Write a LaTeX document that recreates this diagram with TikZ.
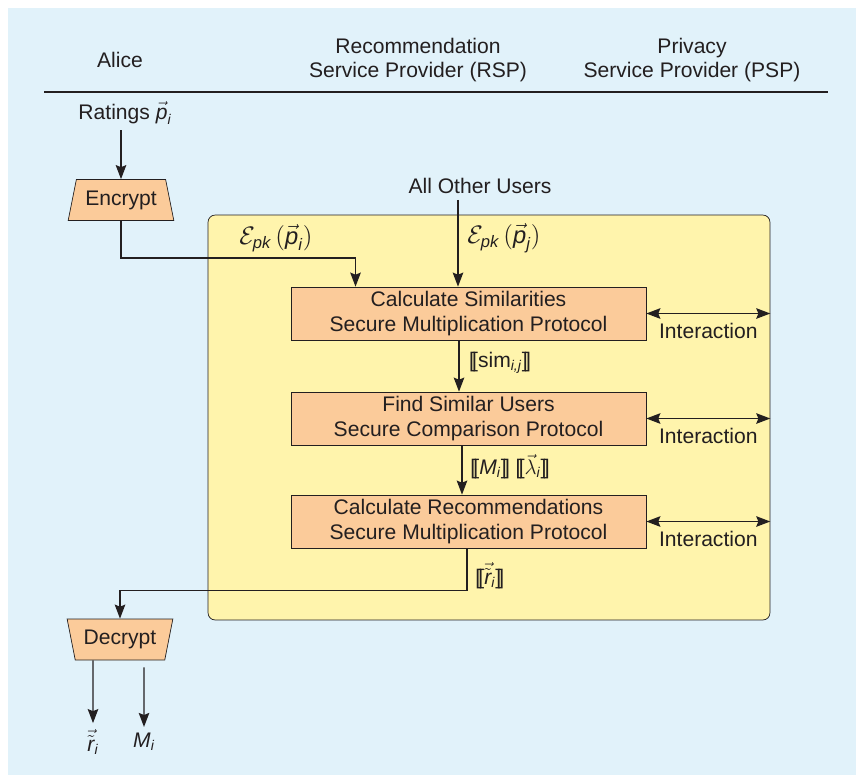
\documentclass[tikz,border=0pt]{standalone}
\usepackage{amsmath}
\usepackage{fontspec}
\setmainfont{Liberation Sans}
\usetikzlibrary{shapes.geometric,arrows.meta}
\definecolor{bgblue}{HTML}{E1F2FA}
\definecolor{panelyellow}{HTML}{FFF4AC}
\definecolor{boxorange}{HTML}{FBCB9A}
\definecolor{inkgray}{HTML}{231F20}
\newcommand{\lbr}{[\kern-0.13em[}
\newcommand{\rbr}{]\kern-0.13em]}
\newcommand{\iv}[1]{\textit{#1}}

\begin{document}
\begin{tikzpicture}[x=0.02cm,y=-0.02cm]
\tikzset{
	txt/.style={font=\fontsize{12}{13.8}\selectfont, text=inkgray, align=center},
	proto/.style={txt, draw=inkgray, fill=boxorange,
		minimum width=7.1cm,
		minimum height=1.06cm,
		inner sep=0pt},
	crypt/.style={txt, draw=inkgray, fill=boxorange,
		shape=trapezium,
		trapezium stretches=true,
		trapezium left angle=76, trapezium right angle=76,
		minimum width=2.12cm,
		minimum height=0.82cm},
	panel/.style={draw=inkgray, fill=panelyellow, rounded corners=4pt,
		minimum width=11.24cm, minimum height=8.1cm},
	arr/.style={-{Stealth[length=8pt,width=6pt,inset=1.2pt]}, draw=inkgray, thick},
	both/.style={{Stealth[length=8pt,width=6pt,inset=1.2pt]}-{Stealth[length=8pt,width=6pt,inset=1.2pt]}, draw=inkgray, thick}
}

\useasboundingbox (0,0) rectangle (866,782);
\fill[bgblue] (8,8) rectangle (856,775);

% header
\node[txt] (alice) at (120,60) {Alice};
\node[txt] (rsphead) at (418,60) {Recommendation\\Service Provider (RSP)};
\node[txt] (psphead) at (692,60) {Privacy\\Service Provider (PSP)};
\draw[inkgray, thick] (44,92) -- (828,92);

\node[panel] (rsp) at (489,417.5) {};

\node[txt] (ratings) at (125,113) {Ratings $\vec{\iv{p}}_{\iv{i}}$};
\node[crypt] (enc) at (121,200) {Encrypt};
\node[crypt, shape border rotate=180] (dec) at (120,639.5) {Decrypt};
\node[txt] (others) at (480,186) {All Other Users};

\node[proto] (sim) at (468.5,313.5) {Calculate Similarities\\Secure Multiplication Protocol};
\node[proto] (find) at (468.5,418.5) {Find Similar Users\\Secure Comparison Protocol};
\node[proto] (rec) at (468.5,521.5) {Calculate Recommendations\\Secure Multiplication Protocol};

\node[txt, font=\fontsize{13.5}{15}\selectfont] (encpi) at (276,238) {$\mathcal{E}_{\iv{pk}}\,(\vec{\iv{p}}_{\iv{i}})$};
\node[txt, font=\fontsize{13.5}{15}\selectfont] (encpj) at (504,238) {$\mathcal{E}_{\iv{pk}}\,(\vec{\iv{p}}_{\iv{j}})$};

\node[txt] (rout) at (93,742) {$\vec{\tilde{\iv{r}}}_{\iv{i}}$};
\node[txt] (mout) at (144,742) {$\iv{M}_{\iv{i}}$};

\draw[arr] (ratings.south -| enc.north) -- (enc.north);
\draw[arr] (enc.south) -- ++(0,37) -| ([xshift=-2.26cm]sim.north);
\draw[arr] ([xshift=-0.21cm]sim.north |- others.south) -- ([xshift=-0.21cm]sim.north);

\draw[arr] ([xshift=-0.19cm]sim.south) -- ([xshift=-0.19cm]find.north)
	node[txt, midway, right=2pt, yshift=2pt] (simlbl) {\lbr sim$_{\iv{i,j}}$\rbr};
\draw[arr] ([xshift=-0.13cm]find.south) -- ([xshift=-0.13cm]rec.north)
	node[txt, midway, right=1pt, yshift=2pt] (mlbl) {\lbr$\iv{M}_{\iv{i}}$\rbr\ \lbr$\vec{\lambda}_{\iv{i}}$\rbr};
\draw[arr] ([xshift=-0.03cm]rec.south) -- ++(0,42) node[txt, pos=0.65, right=1pt] (rlbl) {\lbr$\vec{\tilde{\iv{r}}}_{\iv{i}}$\rbr} -| (dec.north);

\draw[both] (sim.east) -- (sim.east -| rsp.east) node[txt, midway, below=2pt] {Interaction};
\draw[both] (find.east) -- (find.east -| rsp.east) node[txt, midway, below=2pt] {Interaction};
\draw[both] (rec.east) -- (rec.east -| rsp.east) node[txt, midway, below=2pt] {Interaction};

\draw[arr] ([xshift=-0.54cm]dec.south) -- (rout.north);
\draw[arr] ([xshift=0.48cm,yshift=-4]dec.south) -- (mout.north);
\end{tikzpicture}
\end{document}
